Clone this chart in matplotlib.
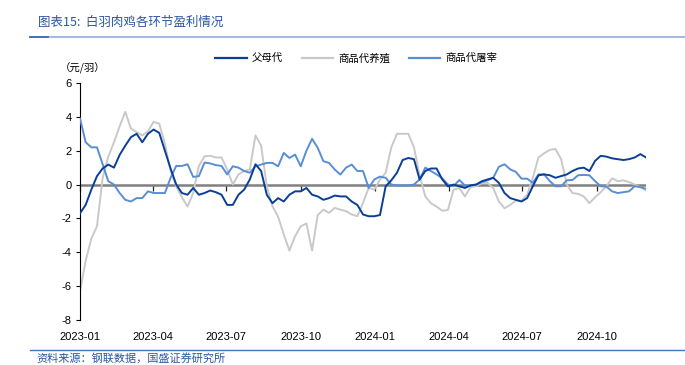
import matplotlib
matplotlib.use("Agg")
import matplotlib.pyplot as plt
import matplotlib.dates as mdates
import pandas as pd
from matplotlib.lines import Line2D

plt.rcParams['font.family'] = ['Liberation Sans', 'Noto Sans CJK SC']
plt.rcParams['axes.unicode_minus'] = False
CJK = ['Noto Sans CJK SC', 'DejaVu Sans']

# weekly samples starting 2023-01-01 (元/羽)
dates = pd.date_range('2023-01-01', periods=101, freq='7D')

parent = [-1.7, -1.2, -0.3, 0.5, 0.95, 1.18, 1.0, 1.75, 2.3, 2.8,
          3.0, 2.5, 3.0, 3.25, 3.05, 2.0, 0.95, 0.0, -0.5, -0.6,
          -0.2, -0.6, -0.5, -0.35, -0.45, -0.6, -1.2, -1.2, -0.6, -0.3,
          0.3, 1.2, 0.8, -0.6, -1.1, -0.8, -1.0, -0.6, -0.4, -0.4,
          -0.2, -0.6, -0.7, -0.9, -0.8, -0.65, -0.7, -0.7, -1.0, -1.2,
          -1.77, -1.87, -1.87, -1.8, -0.1, 0.25, 0.7, 1.45, 1.57, 1.5,
          0.3, 0.8, 0.95, 0.95, 0.3, -0.1, 0.0, -0.1, -0.2, -0.05,
          0.0, 0.2, 0.3, 0.4, 0.1, -0.5, -0.8, -0.9, -1.0, -0.8,
          -0.1, 0.55, 0.6, 0.55, 0.4, 0.5, 0.6, 0.8, 0.95, 1.0,
          0.8, 1.4, 1.7, 1.65, 1.55, 1.5, 1.45, 1.5, 1.6, 1.8,
          1.6]

breeding = [-6.3, -4.5, -3.2, -2.46, 0.4, 1.65, 2.5, 3.44, 4.3, 3.3,
            3.1, 2.9, 3.15, 3.7, 3.6, 2.4, 0.8, -0.1, -0.75, -1.3,
            -0.5, 1.1, 1.67, 1.7, 1.6, 1.6, 0.9, 0.0, 0.6, 0.8,
            0.9, 2.9, 2.3, -0.1, -1.28, -1.9, -2.95, -3.9, -3.05, -2.46,
            -2.3, -3.9, -1.8, -1.48, -1.67, -1.38, -1.48, -1.57, -1.77, -1.87,
            -1.08, -0.2, -0.3, 0.3, 0.7, 2.2, 3.0, 3.0, 3.0, 2.2,
            0.55, -0.7, -1.1, -1.3, -1.55, -1.5, -0.3, -0.2, -0.7, -0.15,
            -0.1, 0.1, 0.1, -0.2, -1.0, -1.4, -1.2, -0.95, -0.95, -0.6,
            0.4, 1.6, 1.85, 2.05, 2.1, 1.5, 0.0, -0.5, -0.55, -0.7,
            -1.1, -0.75, -0.45, -0.1, 0.37, 0.2, 0.25, 0.15, 0.0, -0.15,
            -0.35]

slaughter = [3.9, 2.5, 2.2, 2.2, 1.2, 0.2, 0.0, -0.5, -0.9, -1.0,
             -0.8, -0.8, -0.4, -0.5, -0.5, -0.5, 0.4, 1.1, 1.1, 1.2,
             0.45, 0.5, 1.3, 1.25, 1.15, 1.1, 0.6, 1.08, 1.0, 0.8,
             0.7, 1.08, 1.18, 1.28, 1.28, 1.08, 1.87, 1.57, 1.77, 1.08,
             2.0, 2.7, 2.17, 1.38, 1.28, 0.89, 0.59, 1.0, 1.18, 0.8,
             0.8, -0.2, 0.3, 0.47, 0.4, 0.0, -0.05, -0.05, -0.05, 0.0,
             0.3, 1.0, 0.8, 0.6, 0.37, 0.0, -0.1, 0.27, -0.05, -0.05,
             0.0, 0.15, 0.25, 0.4, 1.05, 1.2, 0.9, 0.75, 0.35, 0.35,
             0.1, 0.6, 0.6, 0.2, -0.1, -0.1, 0.25, 0.27, 0.55, 0.57,
             0.55, 0.2, -0.1, -0.12, -0.4, -0.5, -0.45, -0.4, -0.1, -0.15,
             -0.25]

names = ['父母代', '商品代养殖', '商品代屠宰']
colors = ['#0B3F97', '#C9C9C9', '#5A8ED4']
tick_dates = pd.to_datetime(['2023-01-01', '2023-04-01', '2023-07-01', '2023-10-01',
                             '2024-01-01', '2024-04-01', '2024-07-01', '2024-10-01'])

fig = plt.figure(figsize=(6.85, 3.65), dpi=100)
ax = fig.add_axes([0.1168, 0.1233, 0.8263, 0.6493])

ax.axhline(0, color='#808080', lw=1.8, zorder=1)
ax.plot(dates, breeding, color=colors[1], lw=1.4, zorder=2)
ax.plot(dates, slaughter, color=colors[2], lw=1.4, zorder=3)
ax.plot(dates, parent, color=colors[0], lw=1.4, zorder=4)

ax.set_ylim(-8, 6)
ax.set_yticks(range(-8, 7, 2))
ax.set_xlim(dates[0], dates[-1])
ax.set_xticks(tick_dates)
ax.xaxis.set_major_formatter(mdates.DateFormatter('%Y-%m'))
ax.tick_params(axis='x', length=0, pad=9, labelsize=8)
ax.tick_params(axis='y', length=3, direction='out', labelsize=8, pad=3)
for s in ['top', 'right', 'bottom']:
    ax.spines[s].set_visible(False)
ax.spines['left'].set_linewidth(0.8)

# small ticks sitting on the zero line
secax = ax.secondary_xaxis(8 / 14)
secax.set_xticks(tick_dates)
secax.set_xticklabels([])
secax.xaxis.set_ticks_position('bottom')
secax.tick_params(axis='x', length=4, width=0.9, color='#222222', direction='out',
                  labelbottom=False, labeltop=False)
for s in secax.spines.values():
    s.set_visible(False)

handles = [Line2D([], [], color=c, lw=1.6) for c in colors]
fig.legend(handles, names, loc='center', bbox_to_anchor=(0.52, 0.841), ncol=3,
           frameon=False, handlelength=3.0, columnspacing=1.8, handletextpad=0.5,
           prop={'family': CJK, 'size': 7.5})

fig.text(0.12, 0.814, '（元/羽）', fontsize=7.5, family=CJK, ha='center', va='center')

fig.text(38 / 685, 1 - 22 / 365, '图表15:  白羽肉鸡各环节盈利情况', fontsize=9,
         family=CJK, color='#2A56A0', va='center', style='italic')
fig.add_artist(Line2D([30 / 685, 1.0], [1 - 37 / 365] * 2, color='#9DB3DC', lw=1.3))
fig.add_artist(Line2D([30 / 685, 48 / 685], [1 - 37 / 365] * 2, color='#3D6BB8', lw=1.3))

fig.add_artist(Line2D([30 / 685, 1.0], [1 - 350 / 365] * 2, color='#4472C4', lw=1.0))
fig.text(36 / 685, 1 - 358 / 365, '资料来源：钢联数据，国盛证券研究所', fontsize=8,
         family=CJK, color='#2A56A0', va='center', style='italic')

fig.savefig('out.png', dpi=100)
